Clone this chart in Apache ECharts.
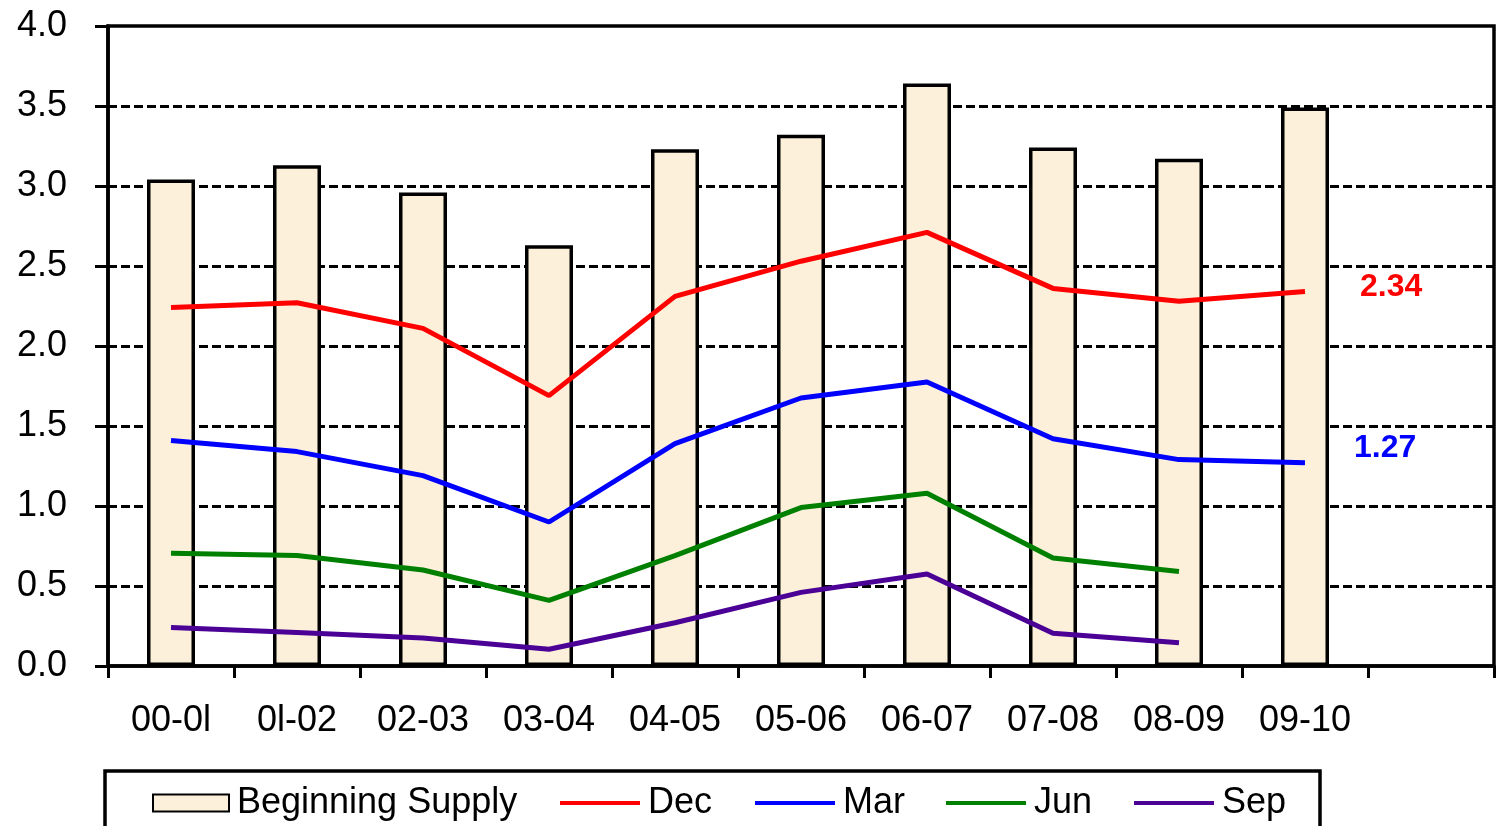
<!DOCTYPE html>
<html>
<head>
<meta charset="utf-8">
<script src="https://cdn.jsdelivr.net/npm/echarts@6/dist/echarts.min.js"></script>
<style>
  html, body { margin: 0; padding: 0; background: #fff; }
  #chart { width: 1501px; height: 826px; }
</style>
</head>
<body>
<div id="chart"></div>
<script>
const categories = ['00-0l', '0l-02', '02-03', '03-04', '04-05', '05-06', '06-07', '07-08', '08-09', '09-10', '']
const supply = [3.04, 3.13, 2.96, 2.63, 3.23, 3.32, 3.64, 3.24, 3.17, 3.49]
const dec = [2.24, 2.27, 2.11, 1.69, 2.31, 2.53, 2.71, 2.36, 2.28, 2.34]
const mar = [1.41, 1.34, 1.19, 0.90, 1.39, 1.675, 1.775, 1.42, 1.29, 1.27]
const jun = [0.705, 0.69, 0.60, 0.41, 0.69, 0.99, 1.08, 0.675, 0.59]
const sep = [0.24, 0.21, 0.175, 0.105, 0.27, 0.46, 0.575, 0.205, 0.145]

const font = 'Liberation Sans, Arial, sans-serif'

function lineSeries (name, data, color, endLabel) {
  const s = {
    name: name,
    type: 'line',
    data: data,
    symbol: 'none',
    lineStyle: { color: color, width: 5 },
    itemStyle: { color: color },
    z: 3
  }
  if (endLabel) {
    s.endLabel = {
      show: true,
      distance: endLabel[0],
      offset: [0, endLabel[1]],
      color: color,
      fontFamily: font,
      fontWeight: 'bold',
      fontSize: 32,
      formatter: (p) => Number(p.value).toFixed(2)
    }
  }
  return s
}

// one legend per entry so each one sits where the original has it
function legendItem (name, left, isBar) {
  return {
    left: left,
    top: 785,
    padding: 0,
    icon: 'rect',
    itemWidth: isBar ? 76 : 80,
    itemHeight: isBar ? 17 : 4,
    textStyle: { fontFamily: font, fontSize: 36, color: '#000', padding: [0, 0, 0, 3] },
    data: [name]
  }
}

const chart = echarts.init(document.getElementById('chart'))
chart.setOption({
  animation: false,
  backgroundColor: '#fff',
  grid: {
    left: 108,
    top: 26,
    right: 7,
    bottom: 160,
    show: true,
    borderColor: '#000',
    borderWidth: 3.5
  },
  legend: [
    legendItem('Beginning Supply', 152, true),
    legendItem('Dec', 560, false),
    legendItem('Mar', 755, false),
    legendItem('Jun', 946, false),
    legendItem('Sep', 1134, false)
  ],
  graphic: [{
    type: 'rect',
    shape: { x: 105, y: 771, width: 1215, height: 90 },
    style: { fill: null, stroke: '#000', lineWidth: 3.5 },
    silent: true
  }],
  xAxis: {
    type: 'category',
    data: categories,
    boundaryGap: true,
    axisLine: { lineStyle: { color: '#000', width: 3.5 } },
    axisTick: { show: true, interval: 0, length: 12, lineStyle: { color: '#000', width: 3 } },
    axisLabel: { interval: 0, margin: 37, color: '#000', fontFamily: font, fontSize: 36 },
    splitLine: { show: false }
  },
  yAxis: {
    type: 'value',
    min: 0,
    max: 4,
    interval: 0.5,
    axisLine: { show: true, lineStyle: { color: '#000', width: 3.5 } },
    axisTick: { show: true, length: 13, lineStyle: { color: '#000', width: 3 } },
    axisLabel: {
      margin: 41,
      color: '#000',
      fontFamily: font,
      fontSize: 36,
      formatter: (v) => v.toFixed(1)
    },
    splitLine: {
      show: true,
      showMinLine: false,
      showMaxLine: false,
      lineStyle: { color: '#000', width: 3, type: [9, 4] }
    }
  },
  series: [
    {
      name: 'Beginning Supply',
      type: 'bar',
      data: supply,
      barWidth: 48,
      itemStyle: { color: '#fcf0da', borderColor: '#000', borderWidth: 3.5 },
      z: 2
    },
    lineSeries('Dec', dec, '#ff0000', [55, -4]),
    lineSeries('Mar', mar, '#0000ff', [49, -15]),
    lineSeries('Jun', jun, '#008000'),
    lineSeries('Sep', sep, '#4b0096')
  ]
})
</script>
</body>
</html>
